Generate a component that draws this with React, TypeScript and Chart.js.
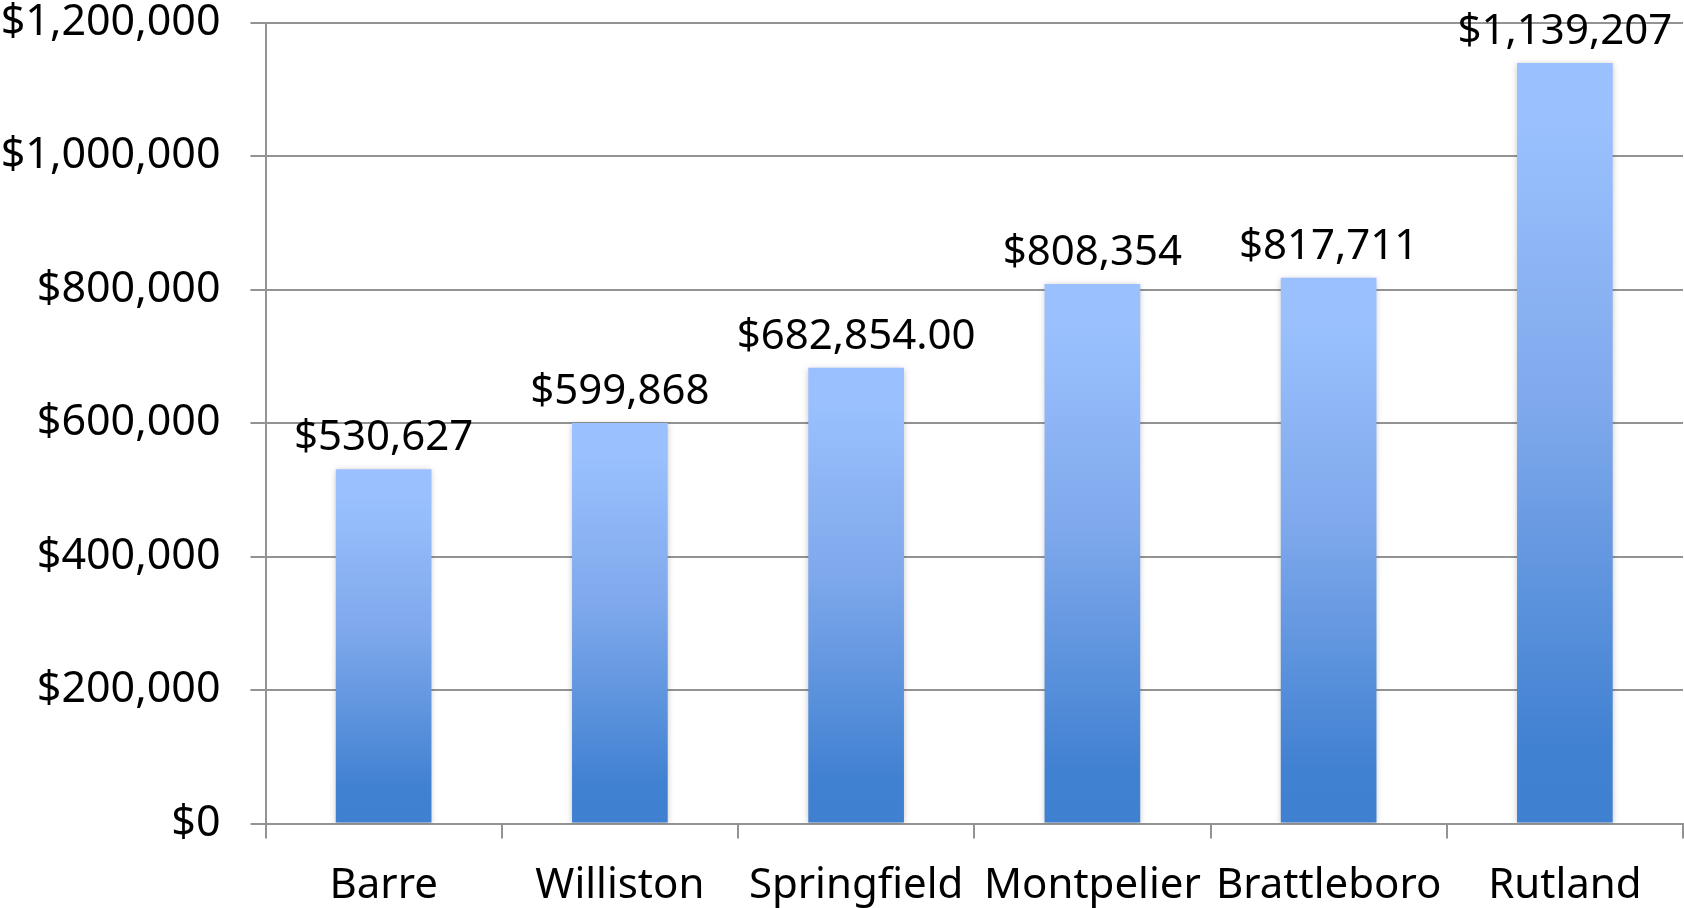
import React, { useEffect, useRef } from "react";
import { Chart, registerables } from "chart.js";

Chart.register(...registerables);

const categories = ["Barre", "Williston", "Springfield", "Montpelier", "Brattleboro", "Rutland"];
const values = [530627, 599868, 682854, 808354, 817711, 1139207];
const labelDecimals = [0, 0, 2, 0, 0, 0];
const yTickMin = 0;
const yTickMax = 1200000;
const yTickStep = 200000;

const FONT = "'Noto Sans', 'Open Sans', sans-serif";
const GRID = "#939393";

function money(v: number, decimals: number) {
  return "$" + v.toLocaleString("en-US", { minimumFractionDigits: decimals, maximumFractionDigits: decimals });
}

const dataLabelPlugin = {
  id: "dataLabels",
  afterDatasetsDraw(chart: any) {
    const ctx = chart.ctx;
    const meta = chart.getDatasetMeta(0);
    ctx.save();
    ctx.font = `42px ${FONT}`;
    ctx.fillStyle = "#000";
    ctx.textAlign = "center";
    ctx.textBaseline = "alphabetic";
    meta.data.forEach((el: any, i: number) => {
      ctx.fillText(money(values[i], labelDecimals[i]), el.x, el.y - 19);
    });
    ctx.restore();
  },
};

const shadowPlugin = {
  id: "barShadow",
  beforeDatasetsDraw(chart: any) {
    const ctx = chart.ctx;
    ctx.save();
    ctx.shadowColor = "rgba(0,0,0,0.22)";
    ctx.shadowBlur = 6;
    ctx.shadowOffsetX = 0;
    ctx.shadowOffsetY = 1;
  },
  afterDatasetsDraw(chart: any) {
    chart.ctx.restore();
  },
};

export default function App() {
  const ref = useRef<HTMLCanvasElement | null>(null);
  useEffect(() => {
    if (!ref.current) return;
    const chart = new Chart(ref.current, {
      type: "bar",
      data: {
        labels: categories,
        datasets: [
          {
            data: values,
            backgroundColor: (c: any) => {
              const ch = c.chart;
              const y = ch.scales?.y;
              if (!y || c.type !== "data") return "#7FA9EC";
              const top = y.getPixelForValue(c.raw);
              const bottom = y.getPixelForValue(0);
              if (!isFinite(top) || !isFinite(bottom) || bottom - top < 1) return "#7FA9EC";
              const g = ch.ctx.createLinearGradient(0, top, 0, bottom);
              g.addColorStop(0, "#9BC0FF");
              g.addColorStop(0.08, "#9AC0FE");
              g.addColorStop(0.45, "#7FA9EC");
              g.addColorStop(0.9, "#4181D1");
              g.addColorStop(1, "#4080D0");
              return g;
            },
            borderWidth: 0,
            categoryPercentage: 1,
            barPercentage: 0.405,
          },
        ],
      },
      options: {
        responsive: false,
        animation: false,
        layout: { padding: { top: 0, right: 1, left: 0, bottom: 0 } },
        plugins: { legend: { display: false }, tooltip: { enabled: false } },
        scales: {
          x: {
            grid: {
              offset: true,
              drawOnChartArea: false,
              drawTicks: true,
              tickLength: 15,
              color: GRID,
              lineWidth: 2,
            },
            border: { display: true, color: GRID, width: 2 },
            ticks: {
              color: "#000",
              font: { family: FONT, size: 42 },
              padding: 22,
              maxRotation: 0,
              autoSkip: false,
            },
            afterFit: (s: any) => {
              s.height = 84.5;
              s.paddingLeft = 0;
              s.paddingRight = 0;
            },
          },
          y: {
            min: yTickMin,
            max: yTickMax,
            grid: { color: GRID, lineWidth: 2, tickLength: 15 },
            border: { display: true, color: GRID, width: 2 },
            ticks: {
              stepSize: yTickStep,
              color: "#000",
              font: { family: FONT, size: 43 },
              padding: 30,
              callback: (v: any) => money(Number(v), 0),
            },
            afterFit: (s: any) => {
              s.width = 265.5;
              s.paddingTop = 22.5;
              s.paddingBottom = 0;
            },
          },
        },
      },
      plugins: [shadowPlugin, dataLabelPlugin],
    });
    return () => chart.destroy();
  }, []);
  return (
    <div style={{ position: "fixed", top: 0, left: 0, width: 1684, height: 908, background: "#fff" }}>
      <canvas ref={ref} width={1684} height={908} />
    </div>
  );
}
